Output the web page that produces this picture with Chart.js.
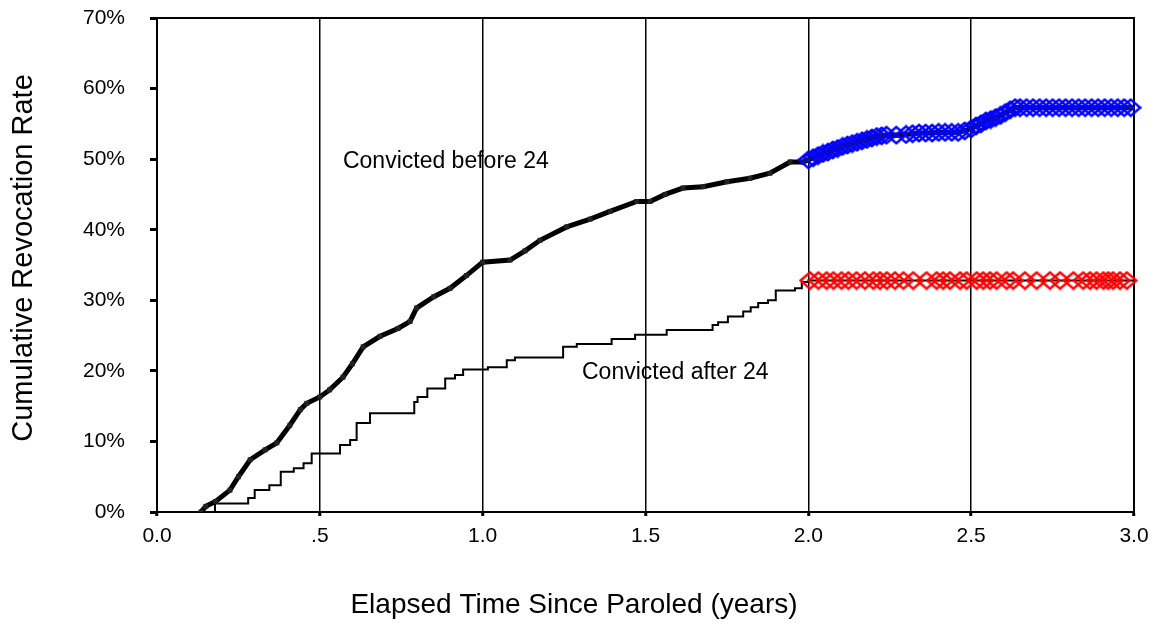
<!DOCTYPE html>
<html>
<head>
<meta charset="utf-8">
<script src="https://cdn.jsdelivr.net/npm/chart.js@4/dist/chart.umd.min.js"></script>
<style>
body { margin: 0; background: #fff; }
#wrap { width: 1157px; height: 624px; }
</style>
</head>
<body>
<div id="wrap"><canvas id="chart" width="1157" height="624"></canvas></div>
<script>
// tick labels
const xTickLabels = ['0.0', '.5', '1.0', '1.5', '2.0', '2.5', '3.0'];
const yTickLabels = ['0%', '10%', '20%', '30%', '40%', '50%', '60%', '70%'];

// convicted before 24 (thick line), years / percent
const beforeTimes = [0.135, 0.15, 0.18, 0.224, 0.25, 0.286, 0.332, 0.368, 0.408, 0.44, 0.46, 0.5, 0.53, 0.571, 0.6, 0.633,
    0.685, 0.74, 0.777, 0.797, 0.85, 0.9, 0.95, 1.0, 1.084, 1.13, 1.176, 1.258, 1.33, 1.391, 1.473, 1.514, 1.56, 1.615,
    1.677, 1.75, 1.821, 1.882, 1.944, 1.984];
const beforeRates = [0, 0.8, 1.5, 3.1, 5.0, 7.4, 8.8, 9.8, 12.3, 14.5, 15.4, 16.3, 17.3, 19.1, 21.0, 23.4,
    24.9, 26.0, 27.0, 28.9, 30.5, 31.7, 33.5, 35.4, 35.7, 37.0, 38.5, 40.4, 41.5, 42.6, 44.0, 44.0, 45.0, 45.9,
    46.1, 46.8, 47.3, 48.0, 49.6, 49.6];

// blue diamonds, convicted before 24 after year 2
const blueTimes = [2.0, 2.015, 2.03, 2.045, 2.06, 2.075, 2.09, 2.105, 2.12, 2.135, 2.15, 2.165, 2.18, 2.195, 2.21, 2.225,
    2.24, 2.27, 2.3, 2.32, 2.34, 2.36, 2.38, 2.4, 2.42, 2.44, 2.46, 2.48, 2.5, 2.515, 2.53, 2.545, 2.56, 2.575, 2.59,
    2.605, 2.62, 2.635, 2.65, 2.67, 2.69, 2.71, 2.73, 2.75, 2.77, 2.79, 2.81, 2.83, 2.85, 2.87, 2.89, 2.91, 2.93,
    2.95, 2.97, 2.99];
const blueRates = [49.9, 50.2, 50.5, 50.8, 51.0, 51.3, 51.5, 51.8, 52.0, 52.2, 52.4, 52.6, 52.8, 53.0, 53.2, 53.3,
    53.4, 53.4, 53.5, 53.6, 53.7, 53.7, 53.7, 53.8, 53.8, 53.8, 53.8, 54.0, 54.3, 54.7, 55.0, 55.4, 55.6, 55.9, 56.2,
    56.6, 57.0, 57.3, 57.3, 57.3, 57.3, 57.3, 57.3, 57.3, 57.3, 57.3, 57.3, 57.3, 57.3, 57.3, 57.3, 57.3, 57.3,
    57.3, 57.3, 57.3];

// convicted after 24 (thin step line)
const afterTimes = [0.173, 0.178, 0.28, 0.30, 0.345, 0.38, 0.42, 0.45, 0.475, 0.562, 0.593, 0.613, 0.654, 0.79, 0.80,
    0.83, 0.885, 0.915, 0.94, 1.016, 1.074, 1.099, 1.247, 1.289, 1.396, 1.468, 1.565, 1.706, 1.723, 1.753, 1.8,
    1.823, 1.846, 1.876, 1.9, 1.959, 1.98, 2.0, 3.0];
const afterRates = [0, 1.2, 2.0, 3.1, 3.8, 5.7, 6.2, 6.9, 8.3, 9.5, 10.2, 12.6, 14.0, 15.6, 16.3,
    17.5, 18.9, 19.4, 20.2, 20.5, 21.5, 21.9, 23.4, 23.8, 24.5, 25.1, 25.8, 26.5, 26.9, 27.7, 28.4,
    29.0, 29.6, 30.0, 31.4, 31.7, 32.6, 32.8, 32.8];

// red diamonds, convicted after 24 after year 2
const redTimes = [2.005, 2.031, 2.056, 2.077, 2.102, 2.123, 2.148, 2.174, 2.2, 2.22, 2.241, 2.266, 2.292, 2.322, 2.363,
    2.394, 2.414, 2.435, 2.466, 2.486, 2.517, 2.537, 2.558, 2.578, 2.609, 2.629, 2.665, 2.701, 2.742, 2.773, 2.814,
    2.844, 2.865, 2.885, 2.906, 2.921, 2.936, 2.957, 2.978];
const redRates = [32.8, 32.8, 32.8, 32.8, 32.8, 32.8, 32.8, 32.8, 32.8, 32.8, 32.8, 32.8, 32.8, 32.8, 32.8,
    32.8, 32.8, 32.8, 32.8, 32.8, 32.8, 32.8, 32.8, 32.8, 32.8, 32.8, 32.8, 32.8, 32.8, 32.8, 32.8,
    32.8, 32.8, 32.8, 32.8, 32.8, 32.8, 32.8, 32.8];

const FONT = "'Liberation Sans', Arial, sans-serif";

function toPoints(xs, ys) {
    return xs.map((x, i) => ({ x: x, y: ys[i] }));
}

// hollow diamond marker, a bit wider than tall
function diamond(color) {
    const c = document.createElement('canvas');
    c.width = 22;
    c.height = 20;
    const g = c.getContext('2d');
    g.strokeStyle = color;
    g.lineWidth = 2.5;
    g.beginPath();
    g.moveTo(1.5, 10);
    g.lineTo(11, 1.8);
    g.lineTo(20.5, 10);
    g.lineTo(11, 18.2);
    g.closePath();
    g.stroke();
    return c;
}

// titles, series labels and the plot frame
const decorPlugin = {
    id: 'decor',
    beforeDraw(chart) {
        const ctx = chart.ctx;
        const xs = chart.scales.x, ys = chart.scales.y;
        ctx.save();
        ctx.fillStyle = '#000';
        ctx.font = '23px ' + FONT;
        ctx.textBaseline = 'middle';
        ctx.textAlign = 'left';
        ctx.fillText('Convicted before 24', xs.getPixelForValue(0.571), ys.getPixelForValue(49.7));
        ctx.fillText('Convicted after 24', xs.getPixelForValue(1.305), ys.getPixelForValue(19.8));

        ctx.font = '28px ' + FONT;
        ctx.textAlign = 'center';
        ctx.fillText('Elapsed Time Since Paroled (years)', 574, 605);
        ctx.translate(24, 258);
        ctx.rotate(-Math.PI / 2);
        ctx.font = '29px ' + FONT;
        ctx.fillText('Cumulative Revocation Rate', 0, 0);
        ctx.restore();
    },
    beforeDatasetsDraw(chart) {
        const a = chart.chartArea;
        const ctx = chart.ctx;
        ctx.save();
        ctx.strokeStyle = '#000';
        ctx.lineWidth = 2;
        ctx.strokeRect(a.left, a.top, a.right - a.left, a.bottom - a.top);
        ctx.restore();
    }
};

const ctx = document.getElementById('chart').getContext('2d');

const chart = new Chart(ctx, {
    type: 'scatter',
    data: {
        datasets: [
            {
                label: 'Before 24 (after year 2)',
                data: toPoints(blueTimes, blueRates),
                showLine: false,
                pointStyle: diamond('#0000ff'),
                clip: false,
                order: 1
            },
            {
                label: 'After 24 (after year 2)',
                data: toPoints(redTimes, redRates),
                showLine: false,
                pointStyle: diamond('#ff0000'),
                clip: false,
                order: 2
            },
            {
                label: 'Convicted before 24',
                data: toPoints(beforeTimes.concat(blueTimes), beforeRates.concat(blueRates)),
                showLine: true,
                borderColor: '#000',
                backgroundColor: '#222',
                borderWidth: 5,
                pointStyle: 'rect',
                pointRadius: 3.5,
                pointBorderWidth: 0,
                order: 3
            },
            {
                label: 'Convicted after 24',
                data: toPoints(afterTimes, afterRates),
                showLine: true,
                stepped: true,
                borderColor: '#000',
                borderWidth: 2,
                pointRadius: 0,
                order: 4
            }
        ]
    },
    options: {
        responsive: false,
        animation: false,
        layout: { padding: { top: 18, right: 23, left: 0, bottom: 0 } },
        plugins: {
            legend: { display: false },
            tooltip: { enabled: false }
        },
        scales: {
            x: {
                type: 'linear',
                min: 0,
                max: 3,
                afterFit: scale => { scale.height = 112; },
                ticks: {
                    stepSize: 0.5,
                    padding: 8,
                    color: '#000',
                    font: { family: FONT, size: 21 },
                    maxRotation: 0,
                    callback: (value, index) => xTickLabels[index]
                },
                grid: {
                    color: '#000',
                    lineWidth: 1.5,
                    tickLength: 4,
                    tickWidth: 3,
                    tickColor: '#000'
                },
                border: { color: '#000', width: 2 }
            },
            y: {
                min: 0,
                max: 70,
                afterFit: scale => {
                    scale.width = 157;
                    scale.paddingTop = 0;
                    scale.paddingBottom = 0;
                },
                ticks: {
                    stepSize: 10,
                    padding: 25,
                    color: '#000',
                    font: { family: FONT, size: 21 },
                    callback: (value, index) => yTickLabels[index]
                },
                grid: {
                    drawOnChartArea: false,
                    tickLength: 7,
                    tickWidth: 3,
                    tickColor: '#000'
                },
                border: { color: '#000', width: 2 }
            }
        }
    },
    plugins: [decorPlugin]
});
</script>
</body>
</html>
